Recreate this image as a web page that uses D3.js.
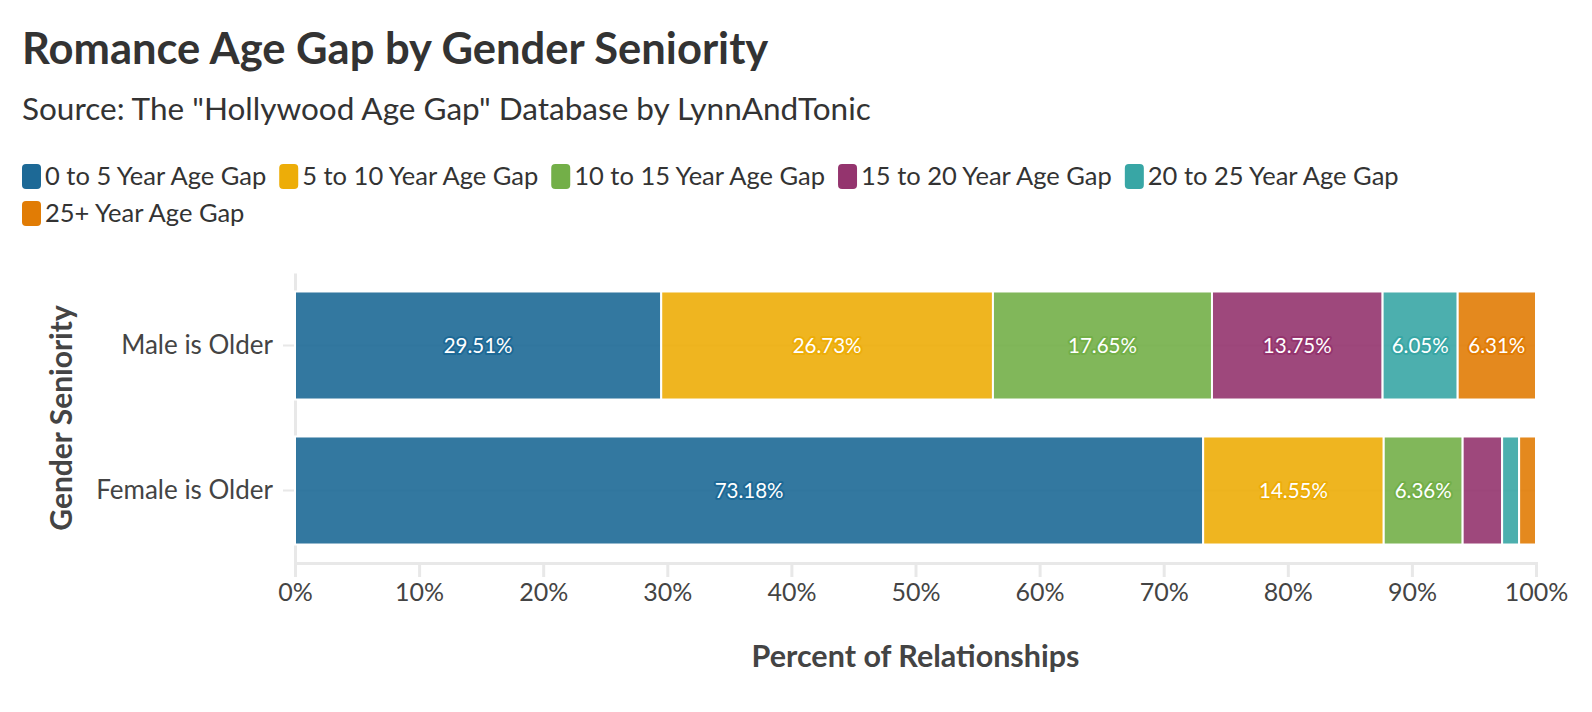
<html>
<head>
<meta content="text/html;charset=utf-8" http-equiv="Content-Type">
<script src="https://d3js.org/d3.v7.min.js"></script>
<style>
  body { margin: 0; background: #fff; }
  text { font-family: Lato, "Noto Sans", sans-serif; }
</style>
</head>
<body>
<svg id="page"></svg>
<script>

// data
var categories = ["Male is Older", "Female is Older"];
var gapGroups = ["0 to 5 Year Age Gap", "5 to 10 Year Age Gap", "10 to 15 Year Age Gap",
                 "15 to 20 Year Age Gap", "20 to 25 Year Age Gap", "25+ Year Age Gap"];
var maleOlder = [29.51, 26.73, 17.65, 13.75, 6.05, 6.31];
var femaleOlder = [73.18, 14.55, 6.36, 3.18, 1.37, 1.36];
var xTicks = [0, 10, 20, 30, 40, 50, 60, 70, 80, 90, 100];
var colors = ["#1D6996", "#EDAD08", "#73AF48", "#94346E", "#38A6A5", "#E17C05"];

var W = 1592, H = 712;
var svg = d3.select("#page").attr("width", W).attr("height", H);

// title
svg.append("text").attr("x", 22).attr("y", 64)
  .style("font-size", "43.5px").style("font-weight", 700).attr("fill", "#333")
  .text("Romance Age Gap by Gender Seniority");
svg.append("text").attr("x", 22).attr("y", 120)
  .style("font-size", "31.5px").attr("fill", "#333")
  .text('Source: The "Hollywood Age Gap" Database by LynnAndTonic');

// legend, wraps when too wide
var lx = 22, ly = 164;
gapGroups.forEach(function(name, i) {
  var g = svg.append("g");
  g.append("rect").attr("width", 19).attr("height", 25).attr("rx", 4)
    .attr("fill", colors[i]);
  var t = g.append("text").attr("x", 23).attr("y", 21)
    .style("font-size", "25.5px").attr("fill", "#333").text(name);
  var w = 23 + t.node().getComputedTextLength();
  if (lx + w > 1560) { lx = 22; ly += 37; }
  g.attr("transform", "translate(" + lx + "," + ly + ")");
  lx += w + 13;
});

// scales
var m = {left: 295, right: 1536, top: 273, bottom: 563};
var x = d3.scaleLinear().domain([0, 100]).range([m.left, m.right]);
var y = d3.scaleBand().domain(categories).range([m.top, m.bottom])
  .paddingInner(0.255).paddingOuter(0.1275);

// category grid lines
svg.append("g").selectAll("line").data(categories).join("line")
  .attr("x1", m.left - 12).attr("x2", m.right)
  .attr("y1", function(d) { return y(d) + y.bandwidth() / 2; })
  .attr("y2", function(d) { return y(d) + y.bandwidth() / 2; })
  .attr("stroke", "#e8e8e8").attr("stroke-width", 2);

// axes
var xAxis = svg.append("g").attr("transform", "translate(0," + m.bottom + ")")
  .call(d3.axisBottom(x).tickValues(xTicks).tickSize(14).tickPadding(6)
    .tickFormat(function(d) { return d + "%"; }));
xAxis.select(".domain").attr("stroke", "#e8e8e8").attr("stroke-width", 3);
xAxis.selectAll(".tick line").attr("stroke", "#e8e8e8").attr("stroke-width", 3);
xAxis.selectAll(".tick text").attr("fill", "#444").style("font-size", "25px")
  .style("font-family", "Lato, sans-serif");

var yAxis = svg.append("g").attr("transform", "translate(" + m.left + ",0)")
  .call(d3.axisLeft(y).tickSize(0).tickPadding(22));
yAxis.select(".domain").attr("stroke", "#e8e8e8").attr("stroke-width", 3);
yAxis.selectAll(".tick text").attr("fill", "#444").style("font-size", "26px")
  .style("font-family", "Lato, sans-serif");

// bars
var rows = [maleOlder, femaleOlder];
rows.forEach(function(vals, r) {
  var cat = categories[r];
  var segs = [], acc = 0;
  vals.forEach(function(v, i) { segs.push({v: v, x0: acc, i: i}); acc += v; });
  var g = svg.append("g");
  g.selectAll("rect").data(segs).join("rect")
    .attr("x", function(d) { return x(d.x0); })
    .attr("width", function(d) { return x(d.x0 + d.v) - x(d.x0); })
    .attr("y", y(cat)).attr("height", y.bandwidth())
    .attr("fill", function(d) { return colors[d.i]; }).attr("fill-opacity", 0.9)
    .attr("stroke", "#fff").attr("stroke-width", 2);
  g.selectAll("text").data(segs.filter(function(d) { return d.v > 5; })).join("text")
    .attr("x", function(d) { return x(d.x0 + d.v / 2); })
    .attr("y", y(cat) + y.bandwidth() / 2)
    .attr("dy", "0.35em").attr("text-anchor", "middle")
    .style("font-size", "20.5px").attr("fill", "#fff")
    .attr("stroke", function(d) { return colors[d.i]; }).attr("stroke-width", 4)
    .attr("stroke-linejoin", "round").style("paint-order", "stroke")
    .text(function(d) { return d.v.toFixed(2) + "%"; });
});

// axis titles
svg.append("text").attr("x", (m.left + m.right) / 2).attr("y", 667)
  .attr("text-anchor", "middle").style("font-size", "30.5px").style("font-weight", 700)
  .attr("fill", "#444").text("Percent of Relationships");
svg.append("text").attr("transform", "translate(72," + (m.top + m.bottom) / 2 + ") rotate(-90)")
  .attr("text-anchor", "middle").style("font-size", "30px").style("font-weight", 700)
  .attr("fill", "#444").text("Gender Seniority");

</script>
</body>
</html>
